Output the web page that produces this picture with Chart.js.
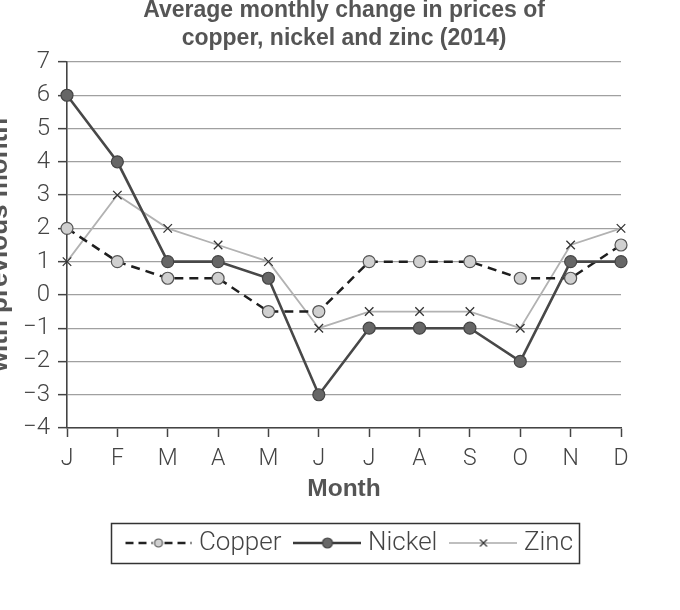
<!DOCTYPE html>
<html>
<head>
<meta charset="utf-8">
<script src="https://cdn.jsdelivr.net/npm/chart.js@4.4.1/dist/chart.umd.min.js"></script>
<style>
  html, body { margin: 0; padding: 0; background: #fff; }
  #wrap { width: 680px; height: 610px; position: relative; }
</style>
</head>
<body>
<div id="wrap"><canvas id="c"></canvas></div>
<script>
const titleLines = ['Average monthly change in prices of', 'copper, nickel and zinc (2014)'];
const yAxisTitle = 'with previous month';
const xAxisTitle = 'Month';
const months = ['J', 'F', 'M', 'A', 'M', 'J', 'J', 'A', 'S', 'O', 'N', 'D'];
const copper = [2, 1, 0.5, 0.5, -0.5, -0.5, 1, 1, 1, 0.5, 0.5, 1.5];
const nickel = [6, 4, 1, 1, 0.5, -3, -1, -1, -1, -2, 1, 1];
const zinc = [1, 3, 2, 1.5, 1, -1, -0.5, -0.5, -0.5, -1, 1.5, 2];
const yMin = -4, yMax = 7, yStep = 1;

const LIGHT = "'Roboto', 'Liberation Sans', sans-serif";
const BOLD = "'Liberation Sans', Arial, sans-serif";

function legendIcon(kind) {
  const c = document.createElement('canvas');
  c.width = 68; c.height = 16;
  const g = c.getContext('2d');
  const cy = 8;
  g.lineCap = 'butt';
  if (kind === 'copper') {
    g.strokeStyle = '#222'; g.lineWidth = 2.4; g.setLineDash([8, 5]);
    g.beginPath(); g.moveTo(1, cy); g.lineTo(67, cy); g.stroke();
    g.setLineDash([]);
    g.fillStyle = '#fff'; g.beginPath(); g.arc(34, cy, 6, 0, Math.PI * 2); g.fill();
    g.fillStyle = '#cfcfcf'; g.strokeStyle = '#555'; g.lineWidth = 1.2;
    g.beginPath(); g.arc(34, cy, 4, 0, Math.PI * 2); g.fill(); g.stroke();
  } else if (kind === 'nickel') {
    g.strokeStyle = '#3a3a3a'; g.lineWidth = 2.4;
    g.beginPath(); g.moveTo(0, cy); g.lineTo(68, cy); g.stroke();
    g.fillStyle = '#686868'; g.strokeStyle = '#444'; g.lineWidth = 1.2;
    g.beginPath(); g.arc(34, cy, 5, 0, Math.PI * 2); g.fill(); g.stroke();
  } else {
    g.strokeStyle = '#aaa'; g.lineWidth = 1.6;
    g.beginPath(); g.moveTo(0, cy); g.lineTo(68, cy); g.stroke();
    g.strokeStyle = '#333'; g.lineWidth = 1.2;
    g.beginPath(); g.moveTo(30.5, cy - 3.5); g.lineTo(37.5, cy + 3.5);
    g.moveTo(37.5, cy - 3.5); g.lineTo(30.5, cy + 3.5); g.stroke();
  }
  return c;
}
const icons = { Copper: legendIcon('copper'), Nickel: legendIcon('nickel'), Zinc: legendIcon('zinc') };

const legendBox = {
  id: 'legendBox',
  afterLayout(chart) {
    chart.legend.left += 8;
    chart.legend.right += 8;
  },
  afterDraw(chart) {
    const lg = chart.legend;
    const hb = lg.legendHitBoxes;
    if (!hb || !hb.length) return;
    const first = hb[0], last = hb[hb.length - 1];
    const cy = first.top + first.height / 2;
    const x0 = first.left - 19.5, x1 = last.left + last.width + 6;
    const ctx = chart.ctx;
    ctx.save();
    ctx.strokeStyle = '#333';
    ctx.lineWidth = 1.5;
    ctx.strokeRect(Math.round(x0) + 0.5, Math.round(cy - 20) + 0.5, Math.round(x1 - x0), 40);
    ctx.restore();
  }
};

new Chart(document.getElementById('c'), {
  type: 'line',
  data: {
    labels: months,
    datasets: [
      {
        label: 'Copper', data: copper, order: 2,
        borderColor: '#1e1e1e', borderWidth: 2.5, borderDash: [9, 6],
        pointBackgroundColor: '#d0d0d0', pointBorderColor: '#555', pointBorderWidth: 1.2,
        pointRadius: 6, pointStyle: 'circle', tension: 0
      },
      {
        label: 'Nickel', data: nickel, order: 1,
        borderColor: '#484848', borderWidth: 2.6,
        pointBackgroundColor: '#666', pointBorderColor: '#444', pointBorderWidth: 1.2,
        pointRadius: 6, pointStyle: 'circle', tension: 0
      },
      {
        label: 'Zinc', data: zinc, order: 3,
        borderColor: '#b2b2b2', borderWidth: 1.8,
        pointBackgroundColor: '#333', pointBorderColor: '#333', pointBorderWidth: 1.3,
        pointRadius: 6, pointStyle: 'crossRot', tension: 0
      }
    ]
  },
  options: {
    responsive: true,
    maintainAspectRatio: false,
    animation: false,
    layout: { padding: { left: 0, right: 59, top: 0, bottom: 44 } },
    plugins: {
      tooltip: { enabled: false },
      title: {
        display: true,
        fullSize: false,
        text: titleLines,
        color: '#555',
        font: { family: BOLD, size: 23, weight: 'bold', lineHeight: 1.217 },
        padding: { top: -3.3, bottom: 9.3 }
      },
      legend: {
        display: true,
        position: 'bottom',
        fullSize: false,
        labels: {
          usePointStyle: true,
          pointStyleWidth: 55,
          padding: 18.5,
          color: '#444',
          font: { family: LIGHT, size: 26, weight: '300' },
          generateLabels(chart) {
            return chart.data.datasets.map((ds, i) => ({
              text: ds.label,
              pointStyle: icons[ds.label],
              fillStyle: 'transparent',
              strokeStyle: 'transparent',
              lineWidth: 0,
              fontColor: '#444',
              hidden: false,
              datasetIndex: i
            }));
          }
        }
      }
    },
    scales: {
      x: {
        type: 'category',
        offset: false,
        afterFit(scale) { scale.height = 83.5; },
        grid: { display: true, drawOnChartArea: false, drawTicks: true, tickLength: 9, tickColor: '#444', tickWidth: 1.5 },
        border: { display: true, color: '#444', width: 1.6 },
        ticks: {
          color: '#444', padding: 8, maxRotation: 0, autoSkip: false,
          font: { family: LIGHT, size: 23, weight: '300' }
        },
        title: {
          display: true, text: xAxisTitle, color: '#555',
          font: { family: BOLD, size: 24.5, weight: 'bold', lineHeight: 1.2 },
          padding: { top: 0, bottom: 7.3 }
        }
      },
      y: {
        min: yMin, max: yMax,
        afterFit(scale) { scale.width = 67; },
        grid: {
          display: true, drawOnChartArea: true, drawTicks: true, tickLength: 9,
          color: '#a0a0a0', lineWidth: 1.3, tickColor: '#444', tickWidth: 1.5
        },
        border: { display: true, color: '#444', width: 1.6 },
        ticks: {
          stepSize: yStep, color: '#444', padding: 8,
          font: { family: LIGHT, size: 24, weight: '300' },
          callback: v => (v < 0 ? '\u2212' + Math.abs(v) : String(v))
        },
        title: {
          display: true, text: yAxisTitle, color: '#555',
          font: { family: BOLD, size: 26, weight: 'bold', lineHeight: 1.2 },
          padding: { top: -15.6, bottom: 0 }
        }
      }
    }
  },
  plugins: [legendBox]
});
</script>
</body>
</html>
